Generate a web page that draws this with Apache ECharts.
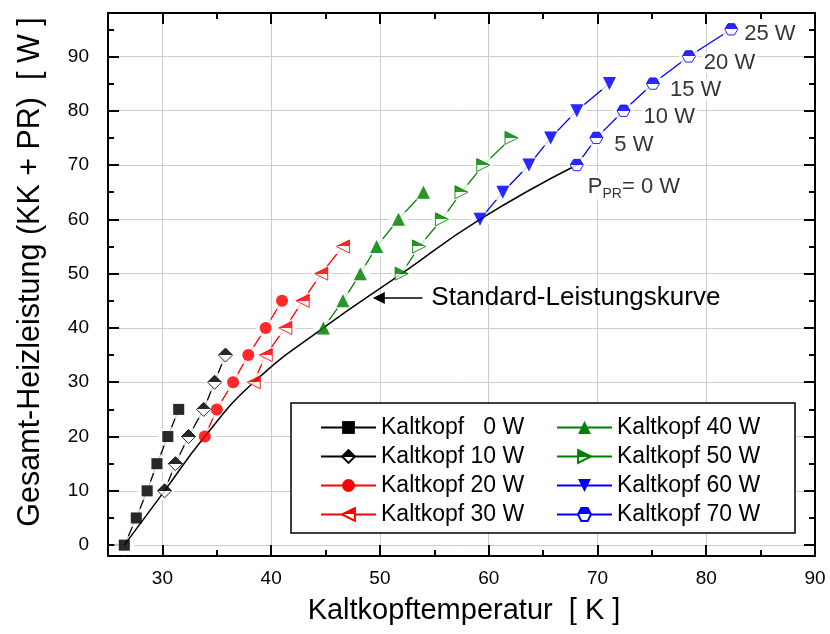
<!DOCTYPE html>
<html>
<head>
<meta charset="utf-8">
<script src="https://cdn.jsdelivr.net/npm/echarts@6/dist/echarts.min.js"></script>
<style>
  html, body { margin: 0; padding: 0; background: #fff; }
  #chart { width: 830px; height: 634px; }
</style>
</head>
<body>
<div id="chart"></div>
<script>
// Cold-head temperature [K] vs. total heating power (cold head + PR heater) [W]
const seriesNames = [
  'Kaltkopf   0 W', 'Kaltkopf 10 W', 'Kaltkopf 20 W', 'Kaltkopf 30 W',
  'Kaltkopf 40 W', 'Kaltkopf 50 W', 'Kaltkopf 60 W', 'Kaltkopf 70 W'
];

const temp0W  = [26.5, 27.6, 28.6, 29.5, 30.5, 31.5];
const power0W = [0, 5, 10, 15, 20, 25];
const temp10W  = [30.2, 31.2, 32.4, 33.8, 34.8, 35.8];
const power10W = [10, 15, 20, 25, 30, 35];
const temp20W  = [33.9, 35.0, 36.5, 37.9, 39.5, 41.0];
const power20W = [20, 25, 30, 35, 40, 45];
const temp30W  = [38.4, 39.5, 41.3, 42.9, 44.6, 46.6];
const power30W = [30, 35, 40, 45, 50, 55];
const temp40W  = [44.8, 46.6, 48.2, 49.7, 51.7, 54.0];
const power40W = [40, 45, 50, 55, 60, 65];
const temp50W  = [52.0, 53.6, 55.7, 57.5, 59.5, 62.1];
const power50W = [50, 55, 60, 65, 70, 75];
const temp60W  = [59.2, 61.3, 63.7, 65.7, 68.1, 71.1];
const power60W = [60, 65, 70, 75, 80, 85];
const temp70W  = [68.1, 69.9, 72.4, 75.1, 78.4, 82.3];
const power70W = [70, 75, 80, 85, 90, 95];

// Standard performance curve (PR heater off)
const stdTemp  = [26.5, 30.2, 33.9, 38.4, 44.8, 52.0, 59.2, 68.1];
const stdPower = [0, 10, 20, 30, 40, 50, 60, 70];

// PR heater power tags along the 70 W series
const prTags = ['{p|P}{s|PR}{p|= 0 W}', '5 W', '10 W', '15 W', '20 W', '25 W'];

// Arrow annotation for the standard curve: [tip, tail]
const stdArrowTemp  = [49.9, 53.9];
const stdArrowPower = [45.5, 45.5];
const stdLabel = 'Standard-Leistungskurve';

const xTitle = 'Kaltkopftemperatur  [ K ]';
const yTitle = 'Gesamt-Heizleistung (KK + PR)  [ W ]';
const xMin = 25, xMax = 90;
const yMin = -2, yMax = 98;

const temps  = [temp0W, temp10W, temp20W, temp30W, temp40W, temp50W, temp60W, temp70W];
const powers = [power0W, power10W, power20W, power30W, power40W, power50W, power60W, power70W];

// ---- styling ----
const FONT = '"Liberation Sans", Arial, sans-serif';
const NARROW = '"Liberation Sans Narrow", "Liberation Sans", Arial, sans-serif';

function halfFill(c) {
  return {
    type: 'linear', x: 0, y: 0, x2: 0, y2: 1,
    colorStops: [
      { offset: 0, color: c }, { offset: 0.5, color: c },
      { offset: 0.5, color: '#fff' }, { offset: 1, color: '#fff' }
    ]
  };
}

const markerStyles = [
  { color: '#000000', symbol: 'rect', size: 11, half: false },
  { color: '#000000', symbol: 'diamond', size: 14, half: true },
  { color: '#ff0000', symbol: 'circle', size: 12, half: false },
  { color: '#ff0000', symbol: 'path://M0,5L10,0L10,10Z', size: 13, half: true },
  { color: '#008000', symbol: 'triangle', size: 13, half: false },
  { color: '#008000', symbol: 'path://M0,0L10,5L0,10Z', size: 13, half: true },
  { color: '#0000ff', symbol: 'path://M0,0L10,0L5,10Z', size: 13, half: false },
  { color: '#0000ff', symbol: 'path://M2.5,0L7.5,0L10,4.33L7.5,8.66L2.5,8.66L0,4.33Z', size: 13, half: true }
];

// label placement for the PR tags: [distance, dx, dy]
const tagPlacement = [[2, 0, 22], [9, 0, 7], [11, 0, 6.5], [8, 0, 6.5], [6, 0, 6.5], [4, 0, 4.5]];

function itemStyleOf(s) {
  return s.half
    ? { color: halfFill(s.color), borderColor: s.color, borderWidth: 1 }
    : { color: s.color, borderWidth: 0 };
}

const series = [];

temps.forEach((t, i) => {
  const s = markerStyles[i];
  const pts = t.map((x, j) => [x, powers[i][j]]);
  // connecting line (also provides the legend icon)
  series.push({
    type: 'line', name: seriesNames[i], data: pts, z: 2,
    symbol: s.symbol, symbolSize: s.size, symbolKeepAspect: true, showAllSymbol: true,
    itemStyle: itemStyleOf(s),
    lineStyle: { color: s.color, width: 1.3 },
    emphasis: { disabled: true }, silent: true
  });
  // white gap around each marker
  series.push({
    type: 'scatter', name: 'gap ' + i, data: pts, z: 3,
    symbol: 'circle', symbolSize: 20,
    itemStyle: { color: '#fff' },
    emphasis: { disabled: true }, silent: true
  });
});

series.push({
  type: 'line', name: 'standard', z: 4,
  data: stdTemp.map((x, j) => [x, stdPower[j]]),
  smooth: 0.5, symbol: 'none',
  lineStyle: { color: '#000', width: 1.5 },
  emphasis: { disabled: true }, silent: true,
  markLine: {
    silent: true, animation: false,
    symbol: ['triangle', 'none'], symbolSize: 12,
    lineStyle: { color: '#000', width: 1.5, type: 'solid' },
    label: {
      show: true, position: 'end', distance: 9, formatter: stdLabel,
      fontSize: 26, fontFamily: FONT, color: '#000'
    },
    data: [[
      { coord: [stdArrowTemp[0], stdArrowPower[0]] },
      { coord: [stdArrowTemp[1], stdArrowPower[1]] }
    ]]
  }
});

temps.forEach((t, i) => {
  const s = markerStyles[i];
  const data = t.map((x, j) => {
    const item = { value: [x, powers[i][j]] };
    if (i === 7) {
      const pl = tagPlacement[j];
      item.label = {
        show: true, position: 'right', distance: pl[0], offset: [pl[1], pl[2]],
        formatter: prTags[j], fontSize: 22, fontFamily: FONT, color: '#000',
        backgroundColor: '#fff', padding: [0, 2],
        rich: {
          p: { fontSize: 22, fontFamily: FONT, color: '#000' },
          s: { fontSize: 14, fontFamily: FONT, color: '#000', padding: [14, 0, 0, 0] }
        }
      };
    }
    return item;
  });
  series.push({
    type: 'scatter', name: 'marker ' + i, data: data, z: 5,
    symbol: s.symbol, symbolSize: s.size, symbolKeepAspect: true,
    itemStyle: itemStyleOf(s),
    emphasis: { disabled: true }, silent: true
  });
});

function majorAxis(pos, min, max, labels, dim) {
  return {
    type: 'value', position: pos, min: min, max: max,
    minInterval: 10, maxInterval: 10,
    axisLine: { show: true, onZero: false, lineStyle: { color: '#000', width: 2 } },
    axisTick: { show: true, inside: true, length: 11, lineStyle: { color: '#000', width: 2 } },
    axisLabel: labels ? {
      show: true, margin: dim === 'x' ? 13 : 19, fontSize: 19, fontFamily: NARROW, color: '#000',
      showMinLabel: false, showMaxLabel: dim === 'x'
    } : { show: false },
    splitLine: { show: labels, lineStyle: { color: '#cccccc', width: 1 } }
  };
}
function minorAxis(pos, min, max) {
  return {
    type: 'value', position: pos, min: min, max: max,
    minInterval: 5, maxInterval: 5,
    axisLine: { show: false, onZero: false },
    axisTick: { show: true, inside: true, length: 6, lineStyle: { color: '#000', width: 2 } },
    axisLabel: { show: false },
    splitLine: { show: false }
  };
}

const legendCommon = {
  orient: 'vertical', top: 416, padding: 0, itemWidth: 55, itemHeight: 16, itemGap: 6,
  selectedMode: false,
  textStyle: { fontSize: 23, fontFamily: FONT, color: '#000' }
};

const option = {
  animation: false,
  backgroundColor: '#fff',
  grid: { left: 108, right: 15, top: 13, bottom: 78, containLabel: false, outerBoundsMode: 'none' },
  xAxis: [
    majorAxis('bottom', xMin, xMax, true, 'x'),
    minorAxis('bottom', xMin, xMax),
    majorAxis('top', xMin, xMax, false, 'x'),
    minorAxis('top', xMin, xMax)
  ],
  yAxis: [
    majorAxis('left', yMin, yMax, true, 'y'),
    minorAxis('left', yMin, yMax),
    majorAxis('right', yMin, yMax, false, 'y'),
    minorAxis('right', yMin, yMax)
  ],
  legend: [
    Object.assign({ left: 320, data: seriesNames.slice(0, 4) }, legendCommon),
    Object.assign({ left: 556, data: seriesNames.slice(4, 8) }, legendCommon)
  ],
  graphic: [
    {
      type: 'rect', z: 1, silent: true,
      shape: { x: 291, y: 403, width: 504, height: 130 },
      style: { fill: '#fff', stroke: '#000', lineWidth: 1.5 }
    },
    {
      type: 'text', silent: true, x: 464, y: 611,
      style: { text: xTitle, fontSize: 29, fontFamily: FONT, fill: '#000', align: 'center', verticalAlign: 'middle' }
    },
    {
      type: 'text', silent: true, x: 31, y: 272, rotation: Math.PI / 2,
      style: { text: yTitle, fontSize: 30.5, fontFamily: FONT, fill: '#000', align: 'center', verticalAlign: 'middle' }
    }
  ],
  series: series
};

const chart = echarts.init(document.getElementById('chart'), null, { renderer: 'canvas' });
chart.setOption(option);
</script>
</body>
</html>
